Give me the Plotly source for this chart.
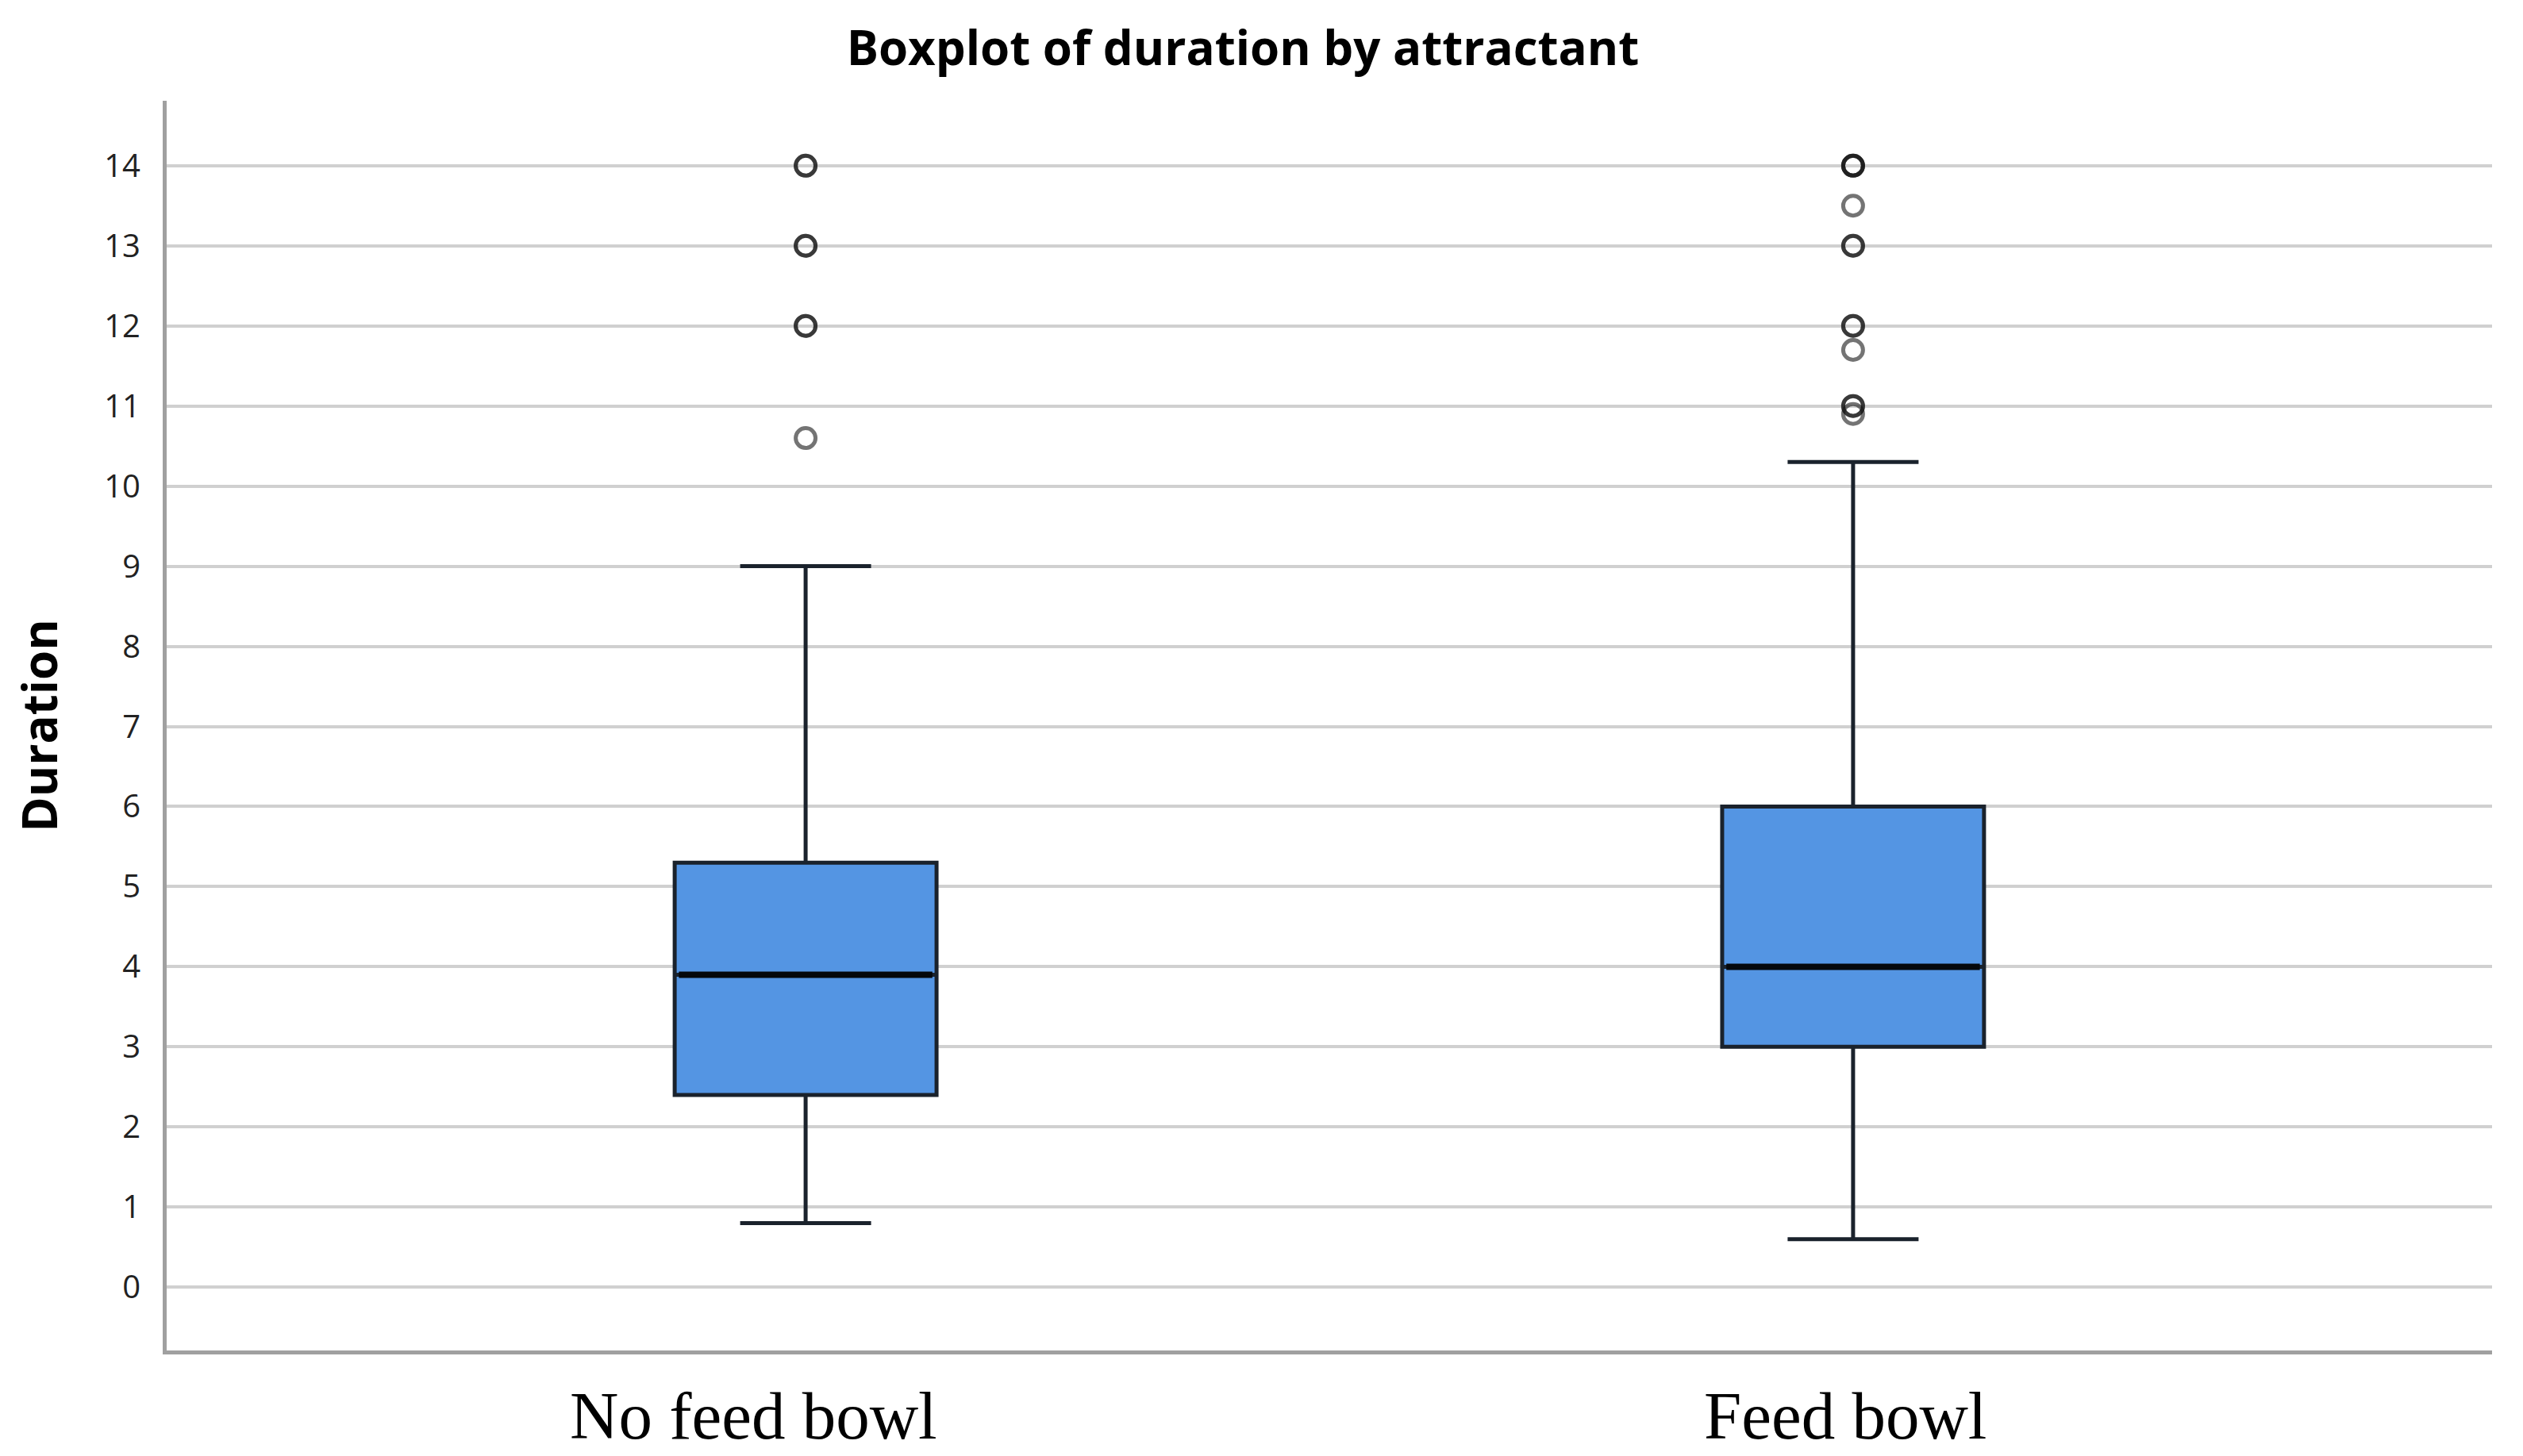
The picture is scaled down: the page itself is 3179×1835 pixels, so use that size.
import plotly.graph_objects as go

categories = ["No feed bowl", "Feed bowl"]
q1 = [2.4, 3.0]
medians = [3.9, 4.0]
q3 = [5.3, 6.0]
lower_whisker = [0.8, 0.6]
upper_whisker = [9.0, 10.3]
outliers = {
    "No feed bowl": [14, 14, 13, 13, 12, 12, 10.6],
    "Feed bowl": [14, 14, 14, 13.5, 13, 13, 12, 12, 11.7, 11.0, 11.0, 10.9],
}
label_shift = [-66, -10]   # horizontal offset of category labels (px)
y_ticks = list(range(0, 15))

fig = go.Figure()

fig.add_trace(go.Box(
    x=categories, q1=q1, median=medians, q3=q3,
    lowerfence=lower_whisker, upperfence=upper_whisker,
    fillcolor="#5495E3", line=dict(color="#1a222c", width=5),
    width=0.25, whiskerwidth=0.5, boxpoints=False, showlegend=False,
    hoverinfo="skip",
))
# thicker median line drawn as a zero-height box at the median
fig.add_trace(go.Box(
    x=categories, q1=medians, median=medians, q3=medians,
    lowerfence=medians, upperfence=medians,
    fillcolor="rgba(0,0,0,0)", line=dict(color="#05080c", width=8),
    width=0.242, whiskerwidth=0.0, boxpoints=False, showlegend=False,
    hoverinfo="skip",
))

for cat, vals in outliers.items():
    fig.add_trace(go.Scatter(
        x=[cat] * len(vals), y=vals, mode="markers",
        marker=dict(symbol="circle-open", size=25,
                    color="rgba(15,15,15,0.58)",
                    line=dict(width=5, color="rgba(15,15,15,0.58)")),
        showlegend=False, hoverinfo="skip",
    ))

for cat, dx in zip(categories, label_shift):
    fig.add_annotation(
        x=cat, xref="x", y=0, yref="paper", yanchor="middle",
        xanchor="center", xshift=dx, yshift=-82, showarrow=False,
        text=cat, font=dict(family="Liberation Serif", size=85, color="black"),
    )

fig.update_layout(
    width=3179, height=1835,
    margin=dict(l=202, r=47, t=119, b=141, autoexpand=False),
    paper_bgcolor="white", plot_bgcolor="white",
    boxmode="overlay",
    title=dict(text="<b>Boxplot of duration by attractant</b>",
               x=1558 / 3179, xref="container", xanchor="center",
               y=1 - 53 / 1835, yref="container", yanchor="middle",
               font=dict(family="Open Sans", size=60, color="black")),
    xaxis=dict(
        type="category", range=[-0.61, 1.61],
        showgrid=False, zeroline=False,
        showline=True, linecolor="#a0a0a0", linewidth=5,
        ticks="", showticklabels=False, automargin=False,
    ),
    yaxis=dict(
        range=[-0.79, 14.81], tickvals=y_ticks,
        showgrid=True, gridcolor="#d0d0d0", gridwidth=4,
        zeroline=False, automargin=False,
        showline=True, linecolor="#a0a0a0", linewidth=5,
        ticks="", ticklabelstandoff=20,
        tickfont=dict(family="Open Sans", size=40, color="#222222"),
        title=dict(text="<b>Duration</b>", standoff=50,
                   font=dict(family="Open Sans", size=60, color="black")),
    ),
)

fig.write_html("out.html")
